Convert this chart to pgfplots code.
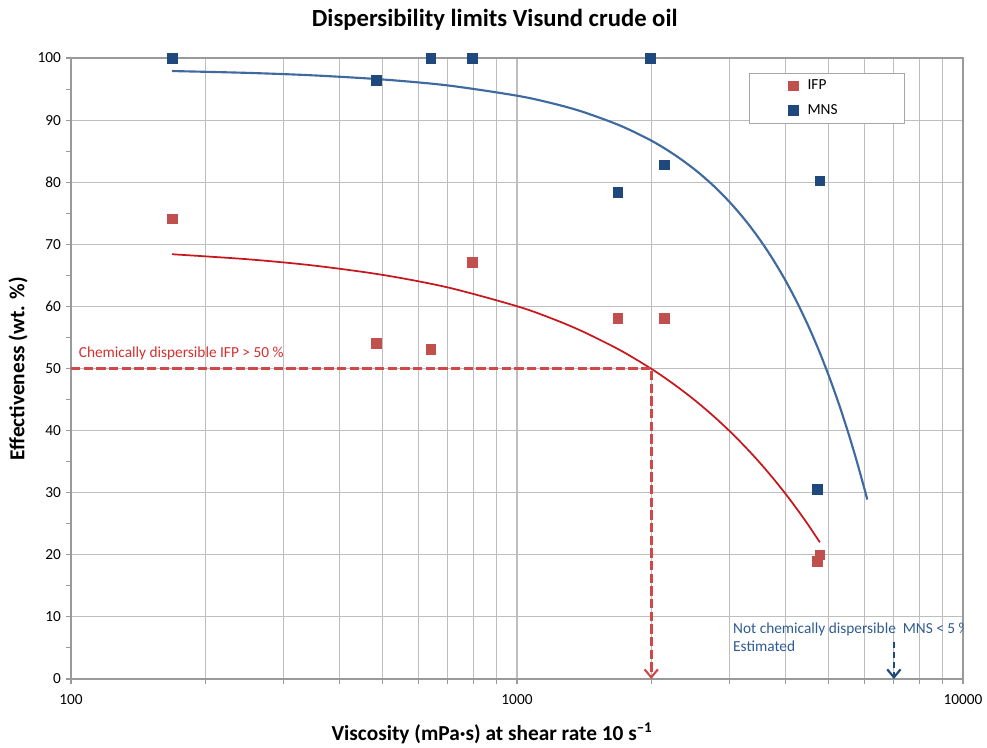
\documentclass[border=0pt]{standalone}
\usepackage{fontspec}
\setmainfont{Carlito}
\usepackage{pgfplots}
\pgfplotsset{compat=1.18}
\usetikzlibrary{arrows.meta}

\definecolor{ifpmark}{HTML}{C0504D}
\definecolor{mnsmark}{HTML}{1F497D}
\definecolor{mnsfit}{HTML}{3F6AA0}
\definecolor{ifpfit}{HTML}{C8161D}
\definecolor{limitred}{HTML}{D04848}
\definecolor{notered}{HTML}{D42E2E}
\definecolor{noteblue}{HTML}{2F5B92}
\definecolor{gridgray}{HTML}{BEBEBE}
\definecolor{axisgray}{HTML}{9A9A9A}

\begin{document}
\begin{tikzpicture}
\useasboundingbox (0pt,0pt) rectangle (740.25pt,560.25pt);
\begin{axis}[
  at={(53.25pt,51pt)}, anchor=south west,
  scale only axis, width=669pt, height=465.75pt,
  xmode=log, xmin=100, xmax=10000, ymin=0, ymax=100,
  xtick={100,1000,10000}, xticklabels={100,1000,10000},
  ytick={0,10,...,100}, minor ytick={5,15,...,95},
  xmajorgrids, xminorgrids, ymajorgrids,
  major grid style={draw=gridgray, line width=0.8pt},
  minor grid style={draw=gridgray, line width=0.8pt},
  tick align=outside, tick pos=left,
  major tick length=4pt, minor tick length=4pt,
  every tick/.style={draw=axisgray, line width=0.8pt},
  axis line style={draw=axisgray, line width=0.8pt},
  ticklabel style={font=\fontsize{11.5}{13}\selectfont},
  xticklabel style={yshift=-4pt},
  /pgf/number format/assume math mode=true,
  title={Dispersibility limits Visund crude oil},
  title style={at={(0.475,1.049)}, anchor=center, font=\bfseries\fontsize{18.5}{22}\selectfont},
  xlabel={Viscosity (mPa·s) at shear rate 10 s\textsuperscript{–1}},
  xlabel style={at={(0.472,-0.087)}, anchor=center, font=\bfseries\fontsize{16}{19}\selectfont},
  ylabel={Effectiveness (wt. \%)},
  ylabel style={at={(-0.0594,0.5)}, anchor=center, font=\bfseries\fontsize{16}{19}\selectfont},
  legend style={at={(0.760,0.976)}, anchor=north west, draw=gray!70, fill=white,
    line width=0.6pt, font=\fontsize{11.5}{13}\selectfont,
    inner xsep=29.5pt, inner ysep=3pt, row sep=5.5pt,
    /tikz/every odd column/.append style={column sep=5pt}},
  legend cell align=left,
]
% fitted trend curves
\addplot[mnsfit, line width=1.6pt, smooth, forget plot] coordinates {
  (168.5,97.90) (250,97.60) (350,97.20) (500,96.54) (700,95.58) (1000,93.93)
  (1200,92.70) (1400,91.36) (1700,89.14) (2000,86.70) (2250,84.46) (2500,82.07)
  (2750,79.51) (3000,76.77) (3250,73.87) (3500,70.80) (3750,67.56) (4000,64.15)
  (4250,60.58) (4500,56.84) (4750,52.93) (5000,48.85) (5250,44.60) (5500,40.18)
  (5750,35.60) (6000,30.84) (6100,28.90)};
\addplot[ifpfit, line width=1.3pt, smooth, forget plot] coordinates {
  (168.5,68.40) (250,67.58) (350,66.58) (500,65.07) (700,63.05) (1000,60.03)
  (1200,58.02) (1400,56.00) (1700,52.98) (2000,49.96) (2250,47.44) (2500,44.93)
  (2750,42.41) (3000,39.89) (3250,37.37) (3500,34.86) (3750,32.34) (4000,29.82)
  (4250,27.30) (4500,24.79) (4776,22.01)};
% measured effectiveness
\addplot[only marks, mark=square*, mark size=3.6pt, color=ifpmark] coordinates {
  (168.5,74.1) (483,54.1) (641,53.1) (793,67.1) (1684,58.1) (2137,58.1)
  (4776,20.0) (4707,19.0)};
\addlegendentry{\makebox[41pt][l]{IFP}}
\addplot[only marks, mark=square*, mark size=3.6pt, color=mnsmark] coordinates {
  (168.5,100) (483,96.4) (641,100) (793,100) (1988,100) (1684,78.4)
  (2137,82.8) (4776,80.2) (4707,30.6)};
\addlegendentry{\makebox[41pt][l]{MNS}}
% dispersibility limits
\addplot[limitred, line width=2pt, dash pattern=on 7pt off 2.5pt,
  -{Straight Barb[length=6pt,width=10pt,line width=1.6pt]}, forget plot]
  coordinates {(100,50) (2000,50) (2000,0)};
\addplot[mnsmark, line width=2pt, dash pattern=on 5pt off 2.5pt,
  -{Straight Barb[length=6pt,width=10pt,line width=1.6pt]}, forget plot]
  coordinates {(7000,6.0) (7000,0)};
\node[anchor=base west, inner sep=0pt, text=notered, font=\fontsize{11.5}{13}\selectfont]
  at (axis cs:104,51.85) {Chemically dispersible IFP > 50 \%};
\node[anchor=base west, inner sep=0pt, text=noteblue, font=\fontsize{11.5}{13}\selectfont]
  at (axis cs:3049,7.4) {Not chemically dispersible\ \ MNS < 5 \%};
\node[anchor=base west, inner sep=0pt, text=noteblue, font=\fontsize{11.5}{13}\selectfont]
  at (axis cs:3049,4.35) {Estimated};
\end{axis}
\end{tikzpicture}
\end{document}
